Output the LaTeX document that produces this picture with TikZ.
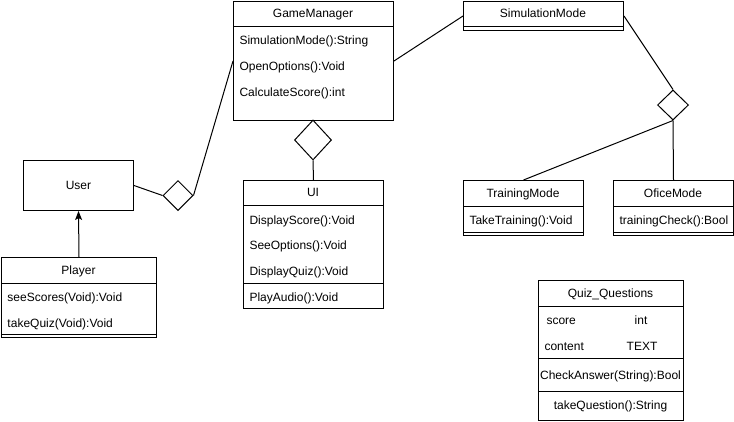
\documentclass[tikz,border=0pt]{standalone}
\usepackage{fontspec}
\setmainfont{Liberation Sans}
\usetikzlibrary{shapes.geometric,arrows.meta}
\begin{document}
\begin{tikzpicture}[x=1pt,y=-1pt,line width=1pt,
  cls/.style={draw,inner sep=0,anchor=north west},
  dia/.style={draw,shape=diamond,inner sep=0,aspect=1},
  txt/.style={inner sep=0,font=\fontsize{12}{14}\selectfont,text height=8.6pt,text depth=0pt},
  lt/.style={txt,anchor=west},
  ct/.style={txt,anchor=center}]
\useasboundingbox (0,0) rectangle (734,421);
\fill[white] (0,0) rectangle (734,421);

% User
\node[cls,minimum width=110pt,minimum height=50pt] (user) at (23,160) {};
\node[ct] (userT) at (user.center) {User};

% Player
\node[cls,minimum width=155pt,minimum height=80pt] (player) at (1,257) {};
\draw (1,283) -- (156,283);
\draw (1,334) -- (156,334);
\node[ct] (playerT) at (78.5,270) {Player};
\node[lt] (p1) at (7,297) {seeScores(Void):Void};
\node[lt] (p2) at (7,323) {takeQuiz(Void):Void};

% GameManager
\node[cls,minimum width=160pt,minimum height=119pt] (gm) at (233,1) {};
\draw (233,26) -- (393,26);
\node[ct] (gmT) at (313,13.5) {GameManager};
\node[lt] (g1) at (239,40) {SimulationMode():String};
\node[lt] (g2) at (239,66) {OpenOptions():Void};
\node[lt] (g3) at (239,92) {CalculateScore():int};

% UI
\node[cls,minimum width=140pt,minimum height=128pt] (ui) at (243,180) {};
\draw (243,205) -- (383,205);
\draw (243,283) -- (383,283);
\node[ct] (uiT) at (313,192.5) {UI};
\node[lt] (u1) at (249,220) {DisplayScore():Void};
\node[lt] (u2) at (249,245) {SeeOptions():Void};
\node[lt] (u3) at (249,271) {DisplayQuiz():Void};
\node[lt] (u4) at (249,297) {PlayAudio():Void};

% SimulationMode
\node[cls,minimum width=160pt,minimum height=29pt] (sm) at (463,1) {};
\draw (463,26) -- (623,26);
\node[ct] (smT) at (543,13.5) {SimulationMode};

% TrainingMode
\node[cls,minimum width=120pt,minimum height=55pt] (tm) at (463,180) {};
\draw (463,206) -- (583,206);
\draw (463,232) -- (583,232);
\node[ct] (tmT) at (523,193) {TrainingMode};
\node[lt] (t1) at (469,220) {TakeTraining():Void};

% OficeMode
\node[cls,minimum width=120pt,minimum height=55pt] (om) at (613,180) {};
\draw (613,206) -- (733,206);
\draw (613,232) -- (733,232);
\node[ct] (omT) at (673,193) {OficeMode};
\node[lt] (o1) at (619,220) {trainingCheck():Bool};

% Quiz_Questions
\node[cls,minimum width=145pt,minimum height=140pt] (qq) at (538,280) {};
\draw (538,306) -- (683,306);
\draw (538,358) -- (683,358);
\draw (538,391) -- (683,391);
\node[ct] (qT) at (610.5,293) {Quiz\_Questions};
\node[lt] (q1) at (546,320) {score};
\node[ct] (q1b) at (641,320) {int};
\node[lt] (q2) at (544,346) {content};
\node[ct] (q2b) at (642,346) {TEXT};
\node[ct] (q3) at (610.5,375) {CheckAnswer(String):Bool};
\node[ct] (q4) at (610.5,405.5) {takeQuestion():String};

% Diamonds
\node[dia,minimum width=30pt,minimum height=30pt] (dU) at (178,195.5) {};
\node[dia,minimum width=37pt,minimum height=40pt] (dG) at (313,140) {};
\node[dia,minimum width=31pt,minimum height=30pt] (dS) at (673,105) {};

% Connectors
\draw (user.east) -- (dU.west);
\draw (dU.east) -- (gm.west);
\draw (gm.east) -- (sm.west);
\draw (sm.east) -- (dS.north);
\draw (dS.south) -- (tm.north);
\draw (dS.south) -- (om.north);
\draw (dG.south) -- (ui.north);
\draw[-{Stealth[length=9pt,width=7pt,inset=2pt]}] (player.north) -- (user.south);
\end{tikzpicture}
\end{document}
